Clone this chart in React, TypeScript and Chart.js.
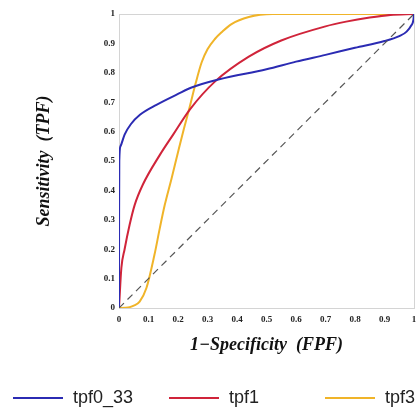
import React, { useEffect, useRef } from "react";
import { Chart, registerables } from "chart.js";

Chart.register(...registerables);

const seriesNames = ["tpf0_33", "tpf1", "tpf3"];
const seriesColors = ["#2b2bb3", "#d0243a", "#f0b429"];

const blueX = [0, 0.0003, 0.001, 0.005, 0.019, 0.04, 0.071, 0.127, 0.2, 0.246, 0.34, 0.5, 0.6, 0.7, 0.8, 0.9, 0.95, 0.975, 0.99, 0.998, 1];
const blueY = [0, 0.3, 0.5, 0.55, 0.59, 0.625, 0.657, 0.691, 0.728, 0.75, 0.778, 0.812, 0.838, 0.861, 0.885, 0.908, 0.925, 0.94, 0.96, 0.98, 1];

const redX = [0, 0.008, 0.019, 0.036, 0.053, 0.081, 0.138, 0.183, 0.24, 0.325, 0.44, 0.55, 0.7, 0.77, 0.85, 0.92, 1];
const redY = [0, 0.136, 0.2, 0.283, 0.35, 0.42, 0.52, 0.589, 0.675, 0.77, 0.855, 0.91, 0.958, 0.974, 0.988, 0.997, 1];

const yellowX = [0, 0.02, 0.036, 0.05, 0.07, 0.093, 0.12, 0.138, 0.155, 0.178, 0.2, 0.22, 0.24, 0.26, 0.28, 0.3, 0.325, 0.35, 0.38, 0.44, 0.52, 1];
const yellowY = [0, 0.001, 0.003, 0.008, 0.022, 0.068, 0.18, 0.27, 0.35, 0.44, 0.53, 0.61, 0.685, 0.765, 0.835, 0.88, 0.915, 0.94, 0.965, 0.99, 1, 1];

const diagX = [0, 1];
const diagY = [0, 1];

const xTickLabels = ["0", "0.1", "0.2", "0.3", "0.4", "0.5", "0.6", "0.7", "0.8", "0.9", "1"];
const yTickLabels = ["0", "0.1", "0.2", "0.3", "0.4", "0.5", "0.6", "0.7", "0.8", "0.9", "1"];

const xTitle = "1\u2212Specificity  (FPF)";
const yTitle = "Sensitivity  (TPF)";

const toPts = (xs: number[], ys: number[]) => xs.map((x, i) => ({ x, y: ys[i] }));

const framePlugin = {
  id: "frame",
  beforeDatasetsDraw(chart: any) {
    const { ctx, chartArea } = chart;
    ctx.save();
    ctx.strokeStyle = "#d4d4d4";
    ctx.lineWidth = 1;
    ctx.strokeRect(
      Math.round(chartArea.left) + 0.5,
      Math.round(chartArea.top) + 0.5,
      Math.round(chartArea.right - chartArea.left),
      Math.round(chartArea.bottom - chartArea.top)
    );
    ctx.restore();
  },
};

const legendPlugin = {
  id: "customLegend",
  afterDraw(chart: any) {
    const { ctx } = chart;
    const y = 398;
    const startX = 13;
    const pitch = 156;
    const lineLen = 50;
    ctx.save();
    ctx.font = "18px 'Liberation Sans', Arial, sans-serif";
    ctx.textBaseline = "middle";
    ctx.textAlign = "left";
    seriesNames.forEach((name, i) => {
      const x0 = startX + i * pitch;
      ctx.strokeStyle = seriesColors[i];
      ctx.lineWidth = 2;
      ctx.beginPath();
      ctx.moveTo(x0, y);
      ctx.lineTo(x0 + lineLen, y);
      ctx.stroke();
      ctx.fillStyle = "#222";
      ctx.fillText(name, x0 + lineLen + 10, y);
    });
    ctx.restore();
  },
};

export default function App() {
  const ref = useRef<HTMLCanvasElement | null>(null);

  useEffect(() => {
    if (!ref.current) return;
    const mk = (xs: number[], ys: number[], i: number) => ({
      label: seriesNames[i],
      data: toPts(xs, ys),
      borderColor: seriesColors[i],
      backgroundColor: seriesColors[i],
      borderWidth: 2,
      pointRadius: 0,
      cubicInterpolationMode: "monotone",
      fill: false,
    });
    const chart = new Chart(ref.current, {
      type: "line",
      data: {
        datasets: [
          {
            label: "diag",
            data: toPts(diagX, diagY),
            borderColor: "#555",
            borderWidth: 1.2,
            borderDash: [7, 5],
            pointRadius: 0,
            fill: false,
          },
          mk(blueX, blueY, 0),
          mk(redX, redY, 1),
          mk(yellowX, yellowY, 2),
        ] as any,
      },
      options: {
        animation: false,
        responsive: false,
        layout: { padding: { top: 14, right: 2, left: 0, bottom: 0 } },
        plugins: { legend: { display: false }, tooltip: { enabled: false } },
        scales: {
          x: {
            type: "linear",
            min: 0,
            max: 1,
            grid: { display: false, drawTicks: false },
            border: { display: false },
            ticks: {
              stepSize: 0.1,
              padding: 6,
              color: "#222",
              font: { family: "'Liberation Serif', serif", size: 9, weight: "bold" },
              callback: (_v: any, i: number) => xTickLabels[i],
            },
            title: {
              display: true,
              text: xTitle,
              color: "#111",
              font: { family: "'Liberation Serif', serif", size: 18, weight: "bold", style: "italic" },
              padding: { top: 0, bottom: 53 },
            },
            afterFit: (s: any) => {
              s.height = 101;
              s.paddingRight = 0;
              s.paddingLeft = 0;
            },
          },
          y: {
            type: "linear",
            min: 0,
            max: 1,
            grid: { display: false, drawTicks: false },
            border: { display: false },
            ticks: {
              stepSize: 0.1,
              padding: 4,
              color: "#222",
              font: { family: "'Liberation Serif', serif", size: 9, weight: "bold" },
              callback: (_v: any, i: number) => yTickLabels[i],
            },
            title: {
              display: true,
              text: yTitle,
              color: "#111",
              font: { family: "'Liberation Serif', serif", size: 18, weight: "bold", style: "italic" },
              padding: { top: 34, bottom: 0 },
            },
            afterFit: (s: any) => {
              s.width = 119;
            },
          },
        },
      } as any,
      plugins: [framePlugin, legendPlugin],
    });
    return () => chart.destroy();
  }, []);

  return (
    <div style={{ position: "fixed", left: 0, top: 0, width: 416, height: 409, background: "#fff" }}>
      <canvas ref={ref} width={416} height={409} />
    </div>
  );
}
